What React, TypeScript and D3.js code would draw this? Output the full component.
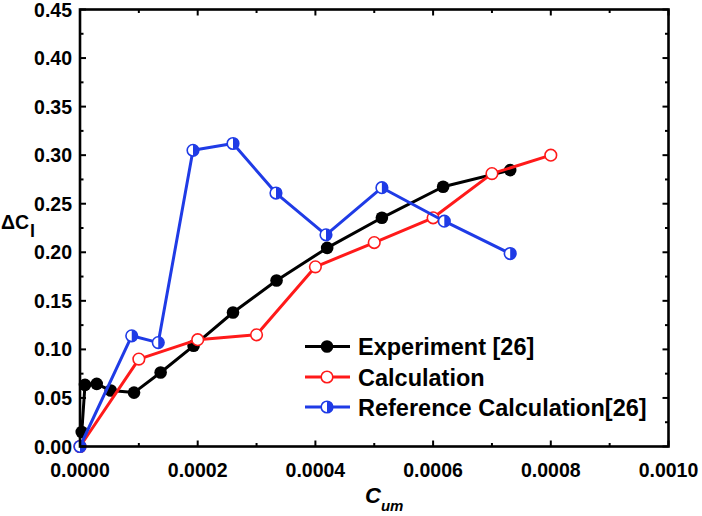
import React from 'react';
import * as d3 from 'd3';

// Experiment [26]
const expX = [0.000003, 0.0000085, 0.0000284, 0.0000522, 0.0000918, 0.000137, 0.000193, 0.00026, 0.000334, 0.00042, 0.000513, 0.000617, 0.000731];
const expY = [0.015, 0.0635, 0.0645, 0.0576, 0.0555, 0.0762, 0.1037, 0.138, 0.171, 0.2045, 0.2355, 0.2675, 0.2846];

// Calculation
const calcX = [0, 0.0001, 0.0002, 0.0003, 0.0004, 0.0005, 0.0006, 0.0007, 0.0008];
const calcY = [0, 0.09, 0.11, 0.115, 0.185, 0.21, 0.2355, 0.281, 0.3];

// Reference Calculation[26]
const refX = [0, 0.0000879, 0.000133, 0.000192, 0.00026, 0.000333, 0.000418, 0.000513, 0.000619, 0.000731];
const refY = [0, 0.114, 0.107, 0.305, 0.312, 0.261, 0.218, 0.2665, 0.232, 0.1987];

const xTicks = [0, 0.0002, 0.0004, 0.0006, 0.0008, 0.001];
const yTicks = [0, 0.05, 0.1, 0.15, 0.2, 0.25, 0.3, 0.35, 0.4, 0.45];

const legendLabels = ['Experiment [26]', 'Calculation', 'Reference Calculation[26]'];

const W = 702;
const H = 516;
const left = 80, right = 668.5, top = 9.5, bottom = 446.5;
const font = '"Liberation Sans", Arial, sans-serif';
const BLUE = '#1f3be6';
const RED = '#ff1a1a';

const x = d3.scaleLinear().domain([0, 0.001]).range([left, right]);
const y = d3.scaleLinear().domain([0, 0.45]).range([bottom, top]);

const line = d3.line<[number, number]>().x(d => x(d[0])).y(d => y(d[1]));

const zip = (a: number[], b: number[]) => a.map((v, i) => [v, b[i]] as [number, number]);

const R = 6.3;

function Marker({ kind, cx, cy }: { kind: number; cx: number; cy: number }) {
  if (kind === 0) return <circle cx={cx} cy={cy} r={R} fill="#000" />;
  if (kind === 1) return <circle cx={cx} cy={cy} r={R - 0.5} fill="#fff" stroke={RED} strokeWidth={1.6} />;
  const r = R - 0.5;
  const arc = `M${cx},${cy - r} A${r},${r} 0 0 1 ${cx},${cy + r} Z`;
  return (
    <g>
      <circle cx={cx} cy={cy} r={r} fill="#fff" stroke={BLUE} strokeWidth={1.6} />
      <path d={arc} fill={BLUE} />
    </g>
  );
}

export default function App() {
  const series = [
    { data: zip(expX, expY), color: '#000' },
    { data: zip(calcX, calcY), color: RED },
    { data: zip(refX, refY), color: BLUE },
  ];

  const xMinor = d3.range(0, 0.00101, 0.0001);
  const yMinor = d3.range(0, 0.451, 0.025);
  const isMajor = (v: number, step: number) => Math.abs(v / step - Math.round(v / step)) < 1e-6;

  const legendY = [346.5, 377, 407];

  return (
    <svg width={W} height={H} style={{ position: 'absolute', left: 0, top: 0, background: '#fff' }} fontFamily={font}>
      {series.map((s, i) => (
        <g key={i}>
          <path d={line(s.data) || ''} fill="none" stroke={s.color} strokeWidth={3} strokeLinejoin="round" />
          {s.data.map((d, j) => (
            <Marker key={j} kind={i} cx={x(d[0])} cy={y(d[1])} />
          ))}
        </g>
      ))}

      {/* frame */}
      <rect x={left} y={top} width={right - left} height={bottom - top} fill="none" stroke="#000" strokeWidth={2.6} />

      {/* x ticks */}
      {xMinor.map((v, i) => {
        const len = isMajor(v, 0.0002) ? 6 : 3.5;
        return (
          <g key={i}>
            <line x1={x(v)} x2={x(v)} y1={bottom} y2={bottom - len} stroke="#000" strokeWidth={2} />
            <line x1={x(v)} x2={x(v)} y1={top} y2={top + len} stroke="#000" strokeWidth={2} />
          </g>
        );
      })}
      {/* y ticks */}
      {yMinor.map((v, i) => {
        const len = isMajor(v, 0.05) ? 6 : 3.5;
        return (
          <g key={i}>
            <line x1={left} x2={left + len} y1={y(v)} y2={y(v)} stroke="#000" strokeWidth={2} />
            <line x1={right} x2={right - len} y1={y(v)} y2={y(v)} stroke="#000" strokeWidth={2} />
          </g>
        );
      })}

      {xTicks.map((v, i) => (
        <text key={i} x={x(v)} y={477} textAnchor="middle" fontSize={19.5} fontWeight="bold">
          {d3.format('.4f')(v)}
        </text>
      ))}
      {yTicks.map((v, i) => (
        <text key={i} x={72} y={y(v) + 7} textAnchor="end" fontSize={19.5} fontWeight="bold">
          {d3.format('.2f')(v)}
        </text>
      ))}

      {/* axis titles */}
      <text x={365} y={503} fontSize={22} fontWeight="bold" fontStyle="italic">
        C
        <tspan fontSize={15} dy={8}>um</tspan>
      </text>
      <text x={1} y={229} fontSize={19.5} fontWeight="bold">
        ΔC
        <tspan fontSize={18} dy={8} dx={1}>l</tspan>
      </text>

      {/* legend */}
      {legendLabels.map((lab, i) => (
        <g key={i}>
          <line x1={305} x2={350} y1={legendY[i]} y2={legendY[i]} stroke={series[i].color} strokeWidth={3} />
          <Marker kind={i} cx={327} cy={legendY[i]} />
          <text x={358} y={legendY[i] + 8.5} fontSize={23.5} fontWeight="bold">{lab}</text>
        </g>
      ))}
    </svg>
  );
}
